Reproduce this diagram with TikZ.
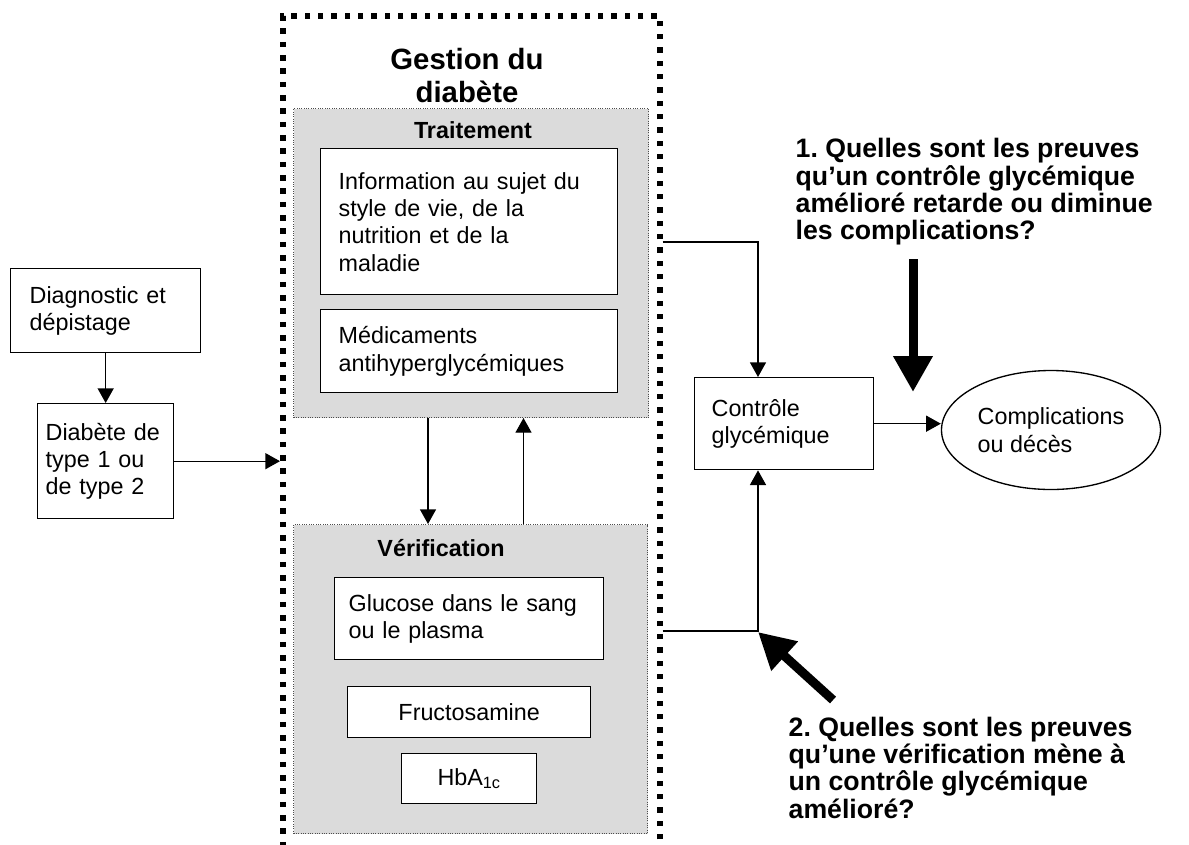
\documentclass[tikz,border=0pt]{standalone}
\usepackage{fontspec}
\setmainfont{Liberation Sans}
\usetikzlibrary{arrows.meta,shapes.geometric}
\frenchspacing
\def\px{0.75pt}

\begin{document}
\begin{tikzpicture}[x=\px,y=-\px,line width=1pt,>={Triangle[length=11pt,width=12pt]}]
      \tikzstyle{box}=[draw,fill=white,anchor=north west,inner sep=0pt,align=left,font=\fontsize{17.5}{20.5}\selectfont]
      \tikzstyle{panel}=[draw=black!70,densely dotted,line width=0.75pt,fill=black!14,anchor=north west,inner sep=0pt]
      \tikzstyle{outer}=[draw,line width=4.2pt,dash pattern=on 4.2pt off 5.8pt,anchor=north west,inner sep=0pt]
      \tikzstyle{label}=[font=\bfseries\fontsize{17.5}{20.5}\selectfont,anchor=base]
      \tikzstyle{question}=[font=\bfseries\fontsize{20}{20.5}\selectfont,align=left,anchor=north west,inner sep=0pt]
      \tikzstyle{bigarrow}=[line width=6.75pt,-{Triangle[length=27pt,width=28pt]}]

      \useasboundingbox (0,0) rectangle (1189,844);
      \clip (0,0) rectangle (1189,844);

      % Draw the dotted frame and the two grey panels
      \node[outer,minimum width=377*\px,minimum height=900*\px] (gestion) at (280,13) {};
      \node[font=\bfseries\fontsize{22}{24.75}\selectfont,align=center,anchor=north] (titre) at (467,43) {Gestion du\\diabète};
      \node[panel,minimum width=355*\px,minimum height=309*\px] (trait) at (293,108) {};
      \node[panel,minimum width=354*\px,minimum height=309*\px] (verif) at (293,524) {};
      \node[label] (traitlbl) at (473,138) {Traitement};
      \node[label] (veriflbl) at (441,556) {Vérification};

      % Draw the boxes
      \node[box,minimum width=190*\px,minimum height=84*\px,text width=152*\px] (diag) at (10,268) {Diagnostic et\\dépistage};
      \node[box,minimum width=136*\px,minimum height=115*\px,text width=120*\px] (diab) at (37,403) {Diabète de\\type 1 ou\\de type 2};
      \node[box,minimum width=297*\px,minimum height=146*\px,text width=261*\px] (info) at (320,148) {Information au sujet du\\style de vie, de la\\nutrition et de la\\maladie};
      \node[box,minimum width=297*\px,minimum height=83*\px,text width=261*\px] (medic) at (320,309) {Médicaments\\antihyperglycémiques};
      \node[box,minimum width=269*\px,minimum height=82*\px,text width=241*\px] (gluc) at (334,577) {Glucose dans le sang\\ou le plasma};
      \node[box,align=center,minimum width=243*\px,minimum height=51*\px] (fructo) at (347,686) {Fructosamine};
      \node[box,align=center,minimum width=135*\px,minimum height=50*\px] (hba) at (401,753) {HbA\textsubscript{1c}};
      \node[box,minimum width=179*\px,minimum height=92*\px,text width=145*\px] (ctrl) at (694,377) {Contrôle\\glycémique};
      \node[box,ellipse,anchor=center,minimum width=219*\px,minimum height=119*\px] (cmp) at (1051,430) {Complications\\ou décès};

      % Draw the questions
      \node[question] (q1) at (795,138) {1. Quelles sont les preuves\\qu’un contrôle glycémique\\amélioré retarde ou diminue\\les complications?};
      \node[question] (q2) at (788,716) {2. Quelles sont les preuves\\qu’une vérification mène à\\un contrôle glycémique\\amélioré?};

      % Connect the boxes
      \draw[->] (diag) -- (diab);
      \draw[->] (diab.east) -- (diab.east -| gestion.west);
      \draw[->] ([xshift=-43*\px]trait.south) -- ([xshift=-43*\px]trait.south |- verif.north);
      \draw[->] ([xshift=53*\px]verif.north) -- ([xshift=53*\px]verif.north |- trait.south);
      \coordinate (kneeA) at (758,242);
      \coordinate (kneeB) at (758,631);
      \draw[->] (gestion.east |- kneeA) -- (kneeA) -- (kneeA |- ctrl.north);
      \draw[->] (gestion.east |- kneeB) -- (kneeB) -- (kneeB |- ctrl.south);
      \draw[->] (ctrl.east) -- (ctrl.east -| cmp.west);

      % The two thick arrows under the questions
      \coordinate (q1tail) at (913,259);
      \coordinate (q1tip) at (913,392);
      \coordinate (q2tail) at (833,700);
      \coordinate (q2tip) at (758,632);
      \draw[bigarrow] (q1tail) -- (q1tip);
      \draw[bigarrow] (q2tail) -- (q2tip);
  \end{tikzpicture}
\end{document}
